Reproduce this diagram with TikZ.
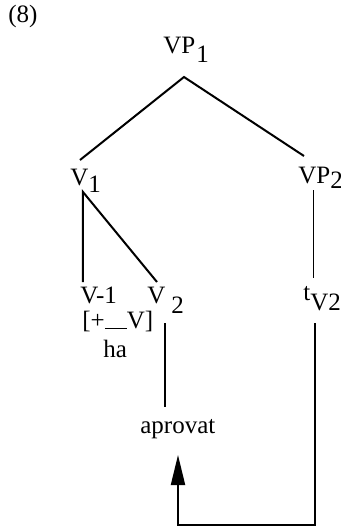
\documentclass[tikz,border=0pt]{standalone}
\usepackage{fontspec}
\setmainfont{Liberation Serif}
\usetikzlibrary{arrows.meta}
\newcommand\lowered[2]{\raisebox{-#1}{#2}}
\begin{document}
\begin{tikzpicture}[x=0.5pt,y=-0.5pt,
  lbl/.style={inner sep=0pt, anchor=base west, font=\fontsize{12.5}{14}\selectfont},
  edge/.style={line width=1pt},
  thin edge/.style={line width=0.35pt},
  move/.style={line width=1pt, -{Triangle[length=15pt,width=7pt]}}]
\useasboundingbox (0,0) rectangle (341,527);
% labels
\node[lbl] (ex) at (8,22) {(8)};
\node[lbl] (vp1) at (163,53) {VP\kern0.5pt\lowered{4.5pt}{1}};
\node[lbl] (v1) at (70,185) {V\lowered{3.5pt}{1}};
\node[lbl] (vp2) at (298,183) {VP\lowered{2.5pt}{2}};
\node[lbl] (vm1) at (80,303) {V-1};
\node[lbl] (v2) at (147,303) {V\kern3pt\lowered{5pt}{2}};
\node[lbl] (tv2) at (303,300) {t\lowered{5pt}{V2}};
\node[lbl] (feat) at (82,328) {[+\rule[-0.6pt]{11pt}{0.7pt}V]};
\node[lbl] (ha) at (103,357) {ha};
\node[lbl] (aprovat) at (140,433) {aprovat};
% tree coordinates
\coordinate (apex) at (184,77);
\coordinate (v1top) at (80,160);
\coordinate (vp2top) at (304,156);
\coordinate (v1bot) at (83,192);
\coordinate (vm1top) at (83,282);
\coordinate (v2top) at (157,282);
\coordinate (vp2bot) at (313,190);
\coordinate (tv2top) at (313,278);
\coordinate (v2bot) at (165,323);
\coordinate (aprtop) at (165,407);
\coordinate (tv2bot) at (315,323);
\coordinate (corner) at (315,525);
\coordinate (arrbase) at (178,525);
\coordinate (arrtip) at (178,455);
% edges
\draw[edge] (v1top) -- (apex) -- (vp2top);
\draw[edge] (vm1top) -- (v1bot) -- (v2top);
\draw[thin edge] (vp2bot) -- (tv2top);
\draw[edge] (v2bot) -- (aprtop);
\draw[move] (tv2bot) -- (corner) -- (arrbase) -- (arrtip);
\end{tikzpicture}
\end{document}
